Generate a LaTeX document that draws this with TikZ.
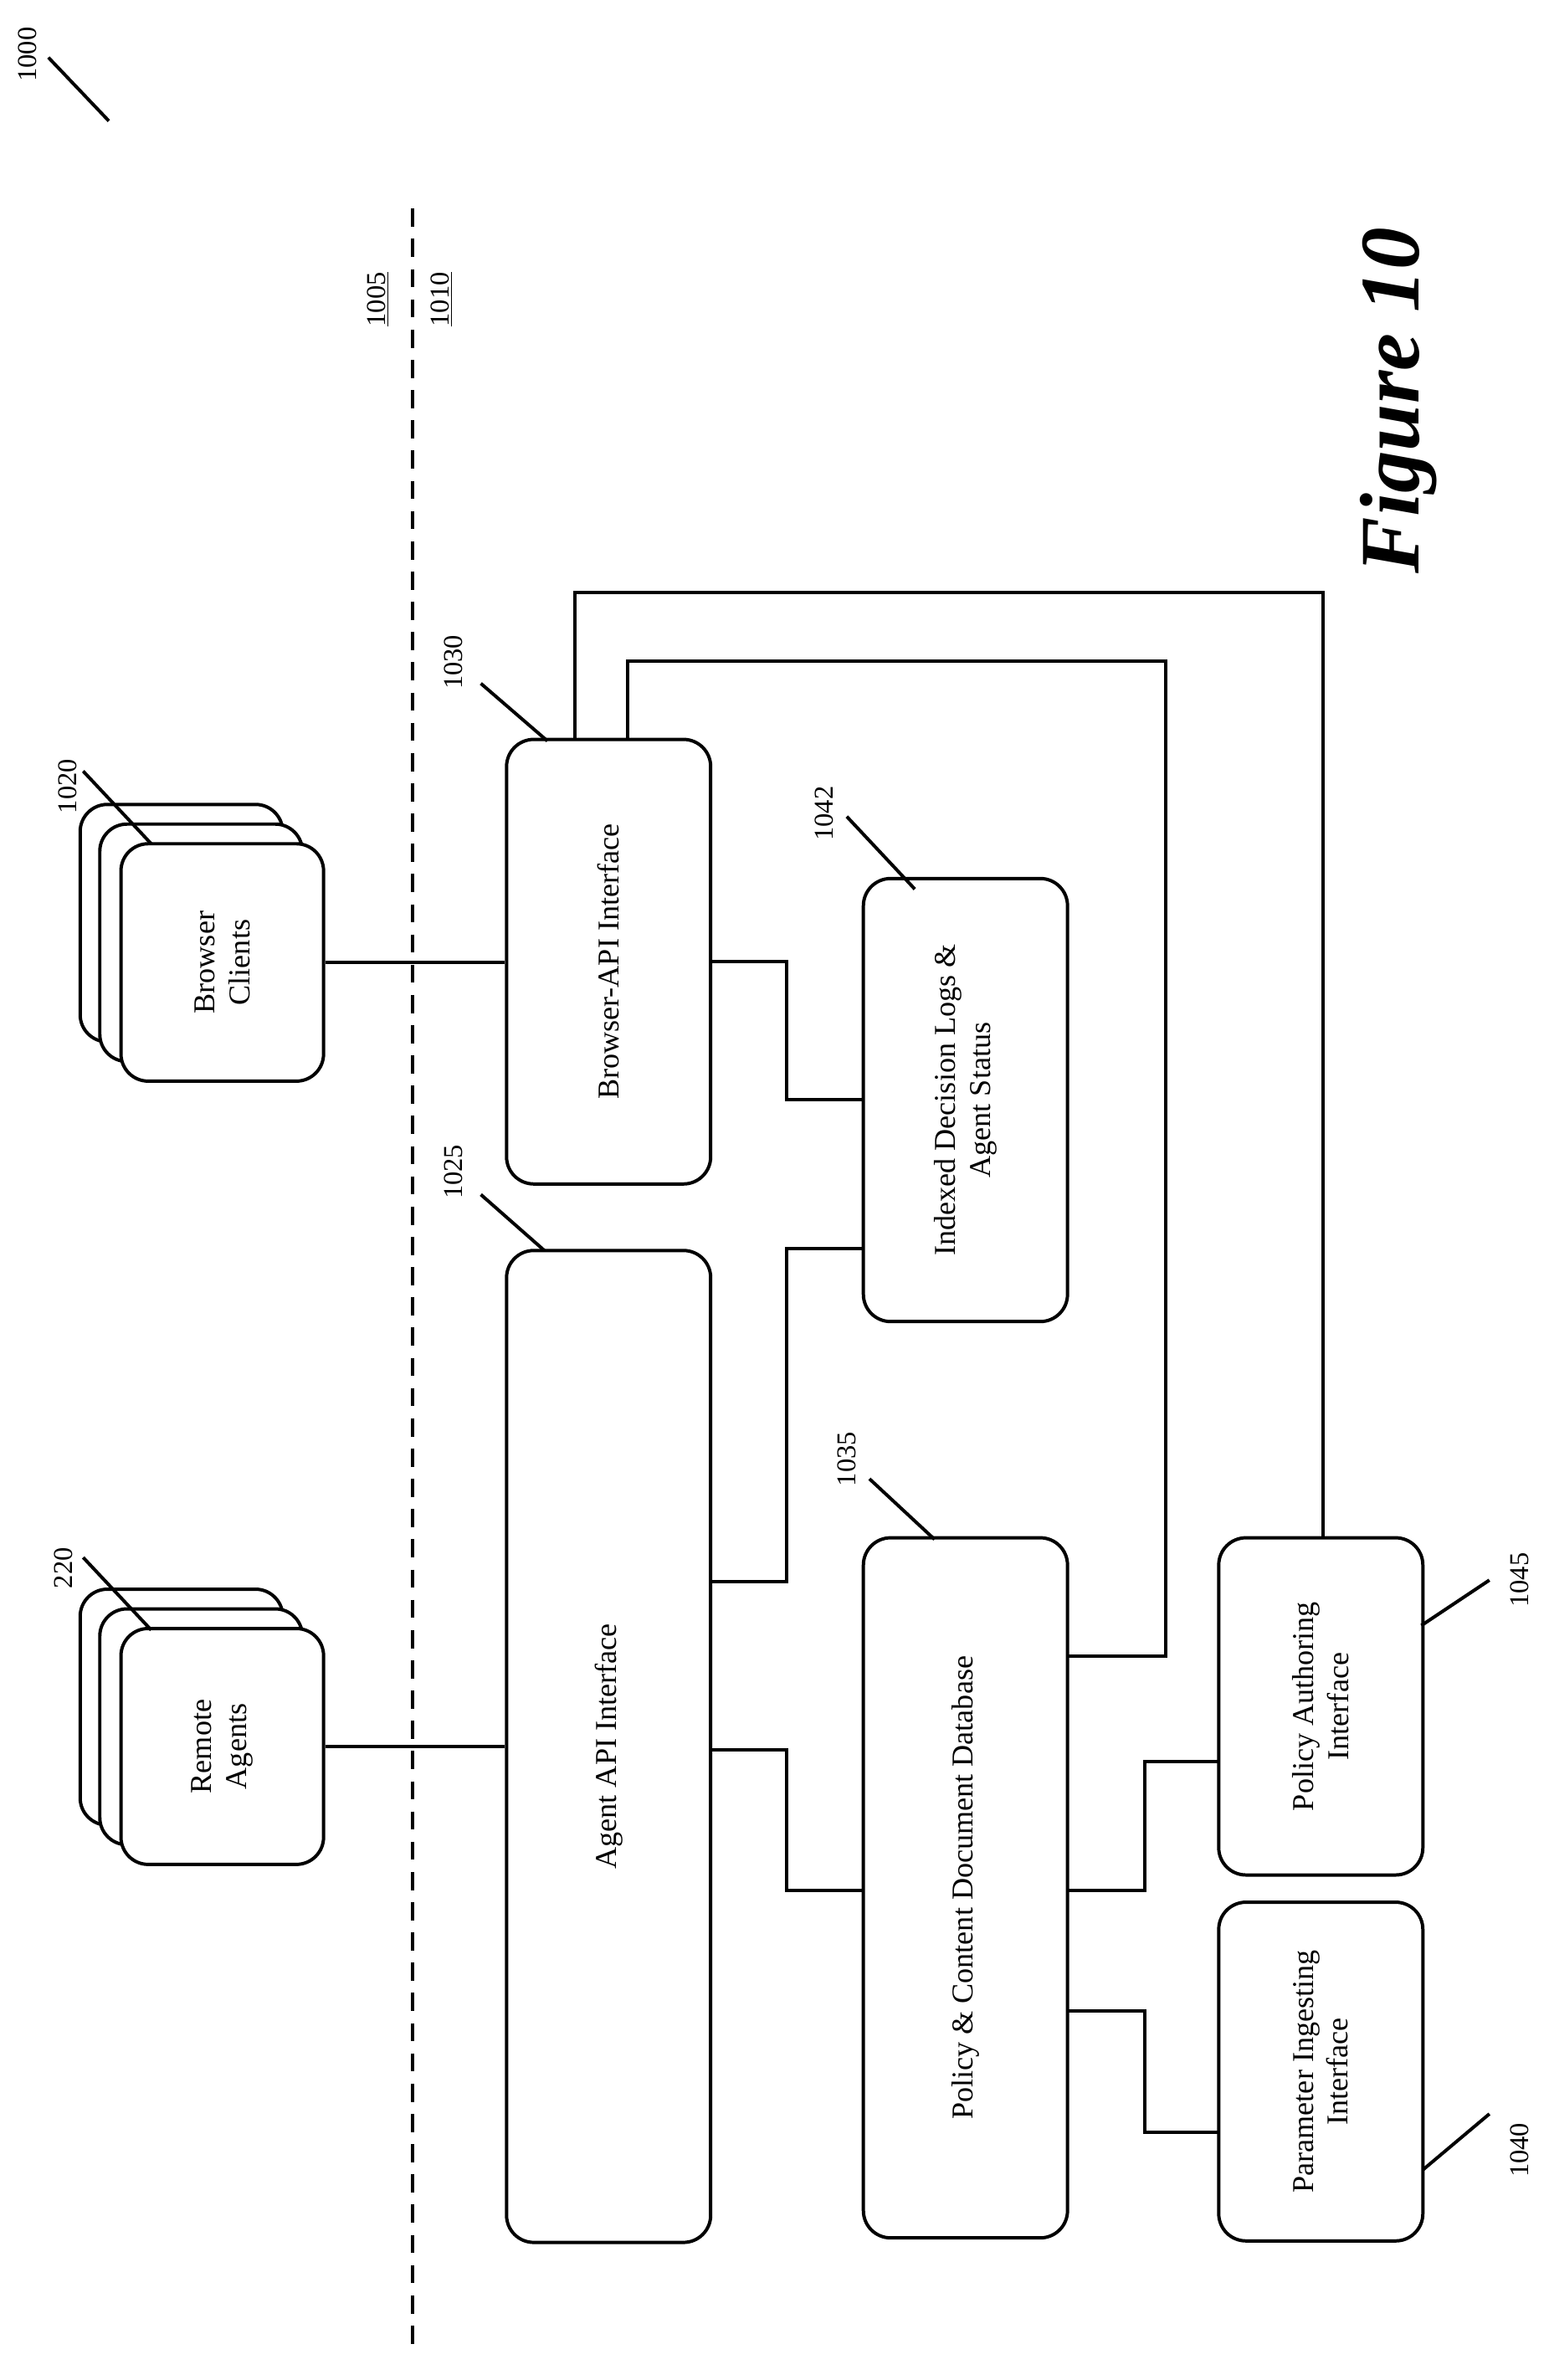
\documentclass[tikz,border=0pt]{standalone}
\usepackage{fontspec}
\setmainfont{Liberation Serif}
\begin{document}
\begin{tikzpicture}[x=1pt,y=-1pt,
 box/.style={draw,line width=2.2pt,rounded corners=18pt,fill=white},
 ln/.style={line width=2.2pt},
 lbl/.style={rotate=90,font=\fontsize{20}{23}\selectfont,align=center},
 num/.style={rotate=90,font=\fontsize{18}{20}\selectfont,inner sep=1pt}]
\useasboundingbox (0,0) rectangle (1024,1574);
% reference leader
\node[num] (n1000) at (18,36) {1000};
\draw[ln] (32,38) -- (72,80);
% dashed line
\draw[ln,dash pattern=on 12pt off 8pt] (273,138) -- (273,1555);
\node[num] (n1005) at (250,198) {\underline{1005}};
\node[num] (n1010) at (292,198) {\underline{1010}};
% Browser clients stack
\draw[box] (53,532) rectangle (187,689);
\draw[box] (66,545) rectangle (200,702);
\node[box,minimum width=134pt,minimum height=157pt,rounded corners=18pt] (bc) at (147,636.5) {};
\node[lbl] at (bc) {Browser\\Clients};
\node[num] (n1020) at (45,520) {1020};
\draw[ln] (55,510) -- (100,558);
% Remote agents stack
\draw[box] (53,1051) rectangle (187,1207);
\draw[box] (66,1064) rectangle (200,1220);
\node[box,minimum width=134pt,minimum height=156pt] (ra) at (147,1155) {};
\node[lbl] at (ra) {Remote\\Agents};
\node[num] (n220) at (42,1037) {220};
\draw[ln] (55,1030) -- (100,1078);
% main boxes
\node[box,minimum width=135pt,minimum height=294pt] (bapi) at (402.5,636) {};
\node[lbl] at (bapi) {Browser-API Interface};
\node[box,minimum width=135pt,minimum height=656pt] (aapi) at (402.5,1155) {};
\node[lbl] at (aapi) {Agent API Interface};
\node[box,minimum width=135pt,minimum height=293pt] (idl) at (638.5,727.5) {};
\node[lbl] at (idl) {Indexed Decision Logs \&\\Agent Status};
\node[box,minimum width=135pt,minimum height=463pt] (pcdd) at (638.5,1248.5) {};
\node[lbl] at (pcdd) {Policy \& Content Document Database};
\node[box,minimum width=135pt,minimum height=223pt] (pai) at (873.5,1128.5) {};
\node[lbl] at (pai) {Policy Authoring\\Interface};
\node[box,minimum width=135pt,minimum height=224pt] (pii) at (873.5,1370) {};
\node[lbl] at (pii) {Parameter Ingesting\\Interface};
% labels
\node[num] (n1030) at (300,438) {1030};
\draw[ln] (318,452) -- (362,490);
\node[num] (n1025) at (300,775) {1025};
\draw[ln] (318,790) -- (360,827);
\node[num] (n1042) at (545,538) {1042};
\draw[ln] (560,540) -- (605,588);
\node[num] (n1035) at (560,965) {1035};
\draw[ln] (575,978) -- (618,1018);
\node[num] (n1045) at (1005,1045) {1045};
\draw[ln] (985,1045) -- (940,1075);
\node[num] (n1040) at (1005,1422) {1040};
\draw[ln] (985,1398) -- (941,1435);
% connectors
\draw[ln] (bc.east) -- (bapi.west |- bc.east);
\draw[ln] (ra.east) -- (aapi.west |- ra.east);
\draw[ln] (470,636) -- (520,636) -- (520,727) -- (571,727);
\draw[ln] (470,1046) -- (520,1046) -- (520,826) -- (571,826);
\draw[ln] (470,1157) -- (520,1157) -- (520,1250) -- (571,1250);
\draw[ln] (380,489) -- (380,392) -- (875,392) -- (875,1017);
\draw[ln] (415,489) -- (415,437) -- (771,437) -- (771,1095) -- (706,1095);
\draw[ln] (706,1250) -- (757,1250) -- (757,1165) -- (806,1165);
\draw[ln] (706,1330) -- (757,1330) -- (757,1410) -- (806,1410);
\node[rotate=90,font=\fontsize{56}{60}\selectfont\bfseries\itshape] (fig) at (925,265) {Figure 10};
\end{tikzpicture}
\end{document}
